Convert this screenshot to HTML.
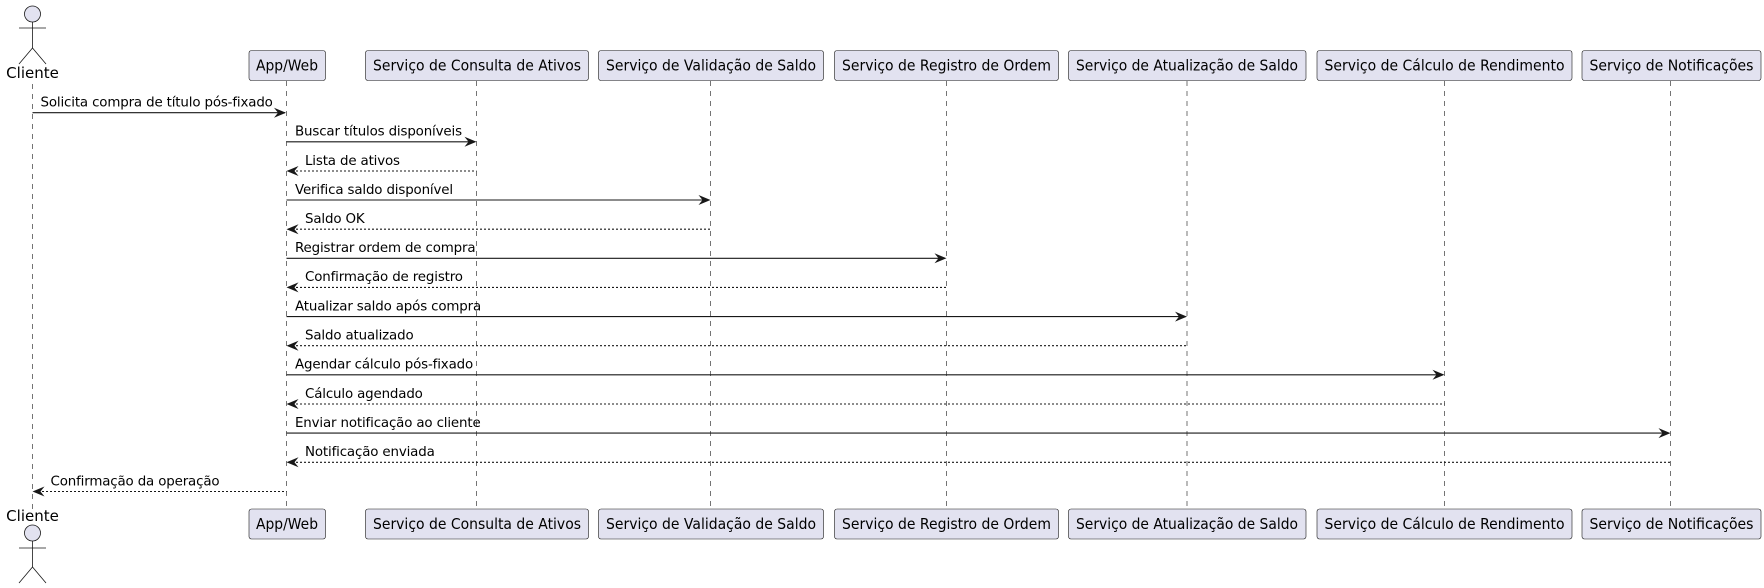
<!DOCTYPE html>
<html><head><meta charset="utf-8"><style>
html,body{margin:0;padding:0;background:#fff;width:1764px;height:588px;overflow:hidden}
svg{display:block}
.t{font-family:"DejaVu Sans","Liberation Sans",sans-serif;fill:#000}
.p{font-size:15px}
.m{font-size:13.4px;letter-spacing:-0.15px}
.ll{stroke:#181818;stroke-width:0.6;stroke-dasharray:5,5}
.bx{fill:#E2E2F0;stroke:#181818;stroke-width:0.6}
.a{stroke:#181818;stroke-width:1.1}
.d{stroke:#181818;stroke-width:1.1;stroke-dasharray:2,2}
.h{fill:#181818}
.ac{fill:#E2E2F0;stroke:#181818;stroke-width:0.8}
.al{stroke:#181818;stroke-width:0.8;fill:none}
</style></head><body>
<svg width="1764" height="588" viewBox="0 0 1764 588" xmlns="http://www.w3.org/2000/svg">
<line class="ll" x1="32.5" y1="84" x2="32.5" y2="509"/>
<line class="ll" x1="286.5" y1="81" x2="286.5" y2="509"/>
<line class="ll" x1="476.5" y1="81" x2="476.5" y2="509"/>
<line class="ll" x1="710.5" y1="81" x2="710.5" y2="509"/>
<line class="ll" x1="946.5" y1="81" x2="946.5" y2="509"/>
<line class="ll" x1="1187" y1="81" x2="1187" y2="509"/>
<line class="ll" x1="1444.5" y1="81" x2="1444.5" y2="509"/>
<line class="ll" x1="1670.5" y1="81" x2="1670.5" y2="509"/>

<circle class="ac" cx="32.5" cy="14" r="8"/>
<line class="al" x1="32.5" y1="22" x2="32.5" y2="48"/>
<line class="al" x1="19" y1="28" x2="46" y2="28"/>
<polyline class="al" points="19,64 32.5,48 46,64"/>
<text class="t p" x="32.5" y="78" text-anchor="middle">Cliente</text>
<text class="t p" x="32.5" y="521" text-anchor="middle">Cliente</text>
<circle class="ac" cx="32.5" cy="533" r="8"/>
<line class="al" x1="32.5" y1="541" x2="32.5" y2="567"/>
<line class="al" x1="19" y1="548" x2="46" y2="548"/>
<polyline class="al" points="19,583 32.5,567 46,583"/>

<g>
<rect class="bx" x="249" y="50.5" width="76.5" height="30" rx="2.5"/>
<text class="t p" x="287" y="70.5" text-anchor="middle" textLength="62" lengthAdjust="spacingAndGlyphs">App/Web</text>
<rect class="bx" x="365.5" y="50.5" width="223" height="30" rx="2.5"/>
<text class="t p" x="477" y="70.5" text-anchor="middle" textLength="208" lengthAdjust="spacingAndGlyphs">Serviço de Consulta de Ativos</text>
<rect class="bx" x="598.5" y="50.5" width="225" height="30" rx="2.5"/>
<text class="t p" x="711" y="70.5" text-anchor="middle" textLength="210" lengthAdjust="spacingAndGlyphs">Serviço de Validação de Saldo</text>
<rect class="bx" x="834.5" y="50.5" width="224" height="30" rx="2.5"/>
<text class="t p" x="946.5" y="70.5" text-anchor="middle" textLength="209" lengthAdjust="spacingAndGlyphs">Serviço de Registro de Ordem</text>
<rect class="bx" x="1068.5" y="50.5" width="237.5" height="30" rx="2.5"/>
<text class="t p" x="1187" y="70.5" text-anchor="middle" textLength="222" lengthAdjust="spacingAndGlyphs">Serviço de Atualização de Saldo</text>
<rect class="bx" x="1317" y="50.5" width="255" height="30" rx="2.5"/>
<text class="t p" x="1444.5" y="70.5" text-anchor="middle" textLength="240" lengthAdjust="spacingAndGlyphs">Serviço de Cálculo de Rendimento</text>
<rect class="bx" x="1582" y="50.5" width="179" height="30" rx="2.5"/>
<text class="t p" x="1671.5" y="70.5" text-anchor="middle" textLength="164" lengthAdjust="spacingAndGlyphs">Serviço de Notificações</text>
</g>
<g>
<rect class="bx" x="249" y="509" width="76.5" height="30" rx="2.5"/>
<text class="t p" x="287" y="529" text-anchor="middle" textLength="62" lengthAdjust="spacingAndGlyphs">App/Web</text>
<rect class="bx" x="365.5" y="509" width="223" height="30" rx="2.5"/>
<text class="t p" x="477" y="529" text-anchor="middle" textLength="208" lengthAdjust="spacingAndGlyphs">Serviço de Consulta de Ativos</text>
<rect class="bx" x="598.5" y="509" width="225" height="30" rx="2.5"/>
<text class="t p" x="711" y="529" text-anchor="middle" textLength="210" lengthAdjust="spacingAndGlyphs">Serviço de Validação de Saldo</text>
<rect class="bx" x="834.5" y="509" width="224" height="30" rx="2.5"/>
<text class="t p" x="946.5" y="529" text-anchor="middle" textLength="209" lengthAdjust="spacingAndGlyphs">Serviço de Registro de Ordem</text>
<rect class="bx" x="1068.5" y="509" width="237.5" height="30" rx="2.5"/>
<text class="t p" x="1187" y="529" text-anchor="middle" textLength="222" lengthAdjust="spacingAndGlyphs">Serviço de Atualização de Saldo</text>
<rect class="bx" x="1317" y="509" width="255" height="30" rx="2.5"/>
<text class="t p" x="1444.5" y="529" text-anchor="middle" textLength="240" lengthAdjust="spacingAndGlyphs">Serviço de Cálculo de Rendimento</text>
<rect class="bx" x="1582" y="509" width="179" height="30" rx="2.5"/>
<text class="t p" x="1671.5" y="529" text-anchor="middle" textLength="164" lengthAdjust="spacingAndGlyphs">Serviço de Notificações</text>
</g>

<line class="a" x1="32.5" y1="112.7" x2="285" y2="112.7"/>
<polygon class="h" points="274,107.7 286,112.7 274,117.7 278,112.7"/>
<text class="t m" x="40.5" y="106.5">Solicita compra de título pós-fixado</text>

<line class="a" x1="286.5" y1="141.8" x2="475" y2="141.8"/>
<polygon class="h" points="464.5,136.8 476.5,141.8 464.5,146.8 468.5,141.8"/>
<text class="t m" x="295" y="135.6">Buscar títulos disponíveis</text>

<line class="d" x1="288" y1="171" x2="476.5" y2="171"/>
<polygon class="h" points="298.5,166 286.5,171 298.5,176 294.5,171"/>
<text class="t m" x="305" y="164.8">Lista de ativos</text>

<line class="a" x1="286.5" y1="200" x2="709" y2="200"/>
<polygon class="h" points="698.5,195 710.5,200 698.5,205 702.5,200"/>
<text class="t m" x="295" y="193.8">Verifica saldo disponível</text>

<line class="d" x1="288" y1="229.2" x2="710.5" y2="229.2"/>
<polygon class="h" points="298.5,224.2 286.5,229.2 298.5,234.2 294.5,229.2"/>
<text class="t m" x="305" y="223">Saldo OK</text>

<line class="a" x1="286.5" y1="258.3" x2="945" y2="258.3"/>
<polygon class="h" points="934.5,253.3 946.5,258.3 934.5,263.3 938.5,258.3"/>
<text class="t m" x="295" y="252.1">Registrar ordem de compra</text>

<line class="d" x1="288" y1="287.4" x2="946.5" y2="287.4"/>
<polygon class="h" points="298.5,282.4 286.5,287.4 298.5,292.4 294.5,287.4"/>
<text class="t m" x="305" y="281.2">Confirmação de registro</text>

<line class="a" x1="286.5" y1="316.6" x2="1185.5" y2="316.6"/>
<polygon class="h" points="1175,311.6 1187,316.6 1175,321.6 1179,316.6"/>
<text class="t m" x="295" y="310.4">Atualizar saldo após compra</text>

<line class="d" x1="288" y1="345.7" x2="1187" y2="345.7"/>
<polygon class="h" points="298.5,340.7 286.5,345.7 298.5,350.7 294.5,345.7"/>
<text class="t m" x="305" y="339.5">Saldo atualizado</text>

<line class="a" x1="286.5" y1="374.8" x2="1443" y2="374.8"/>
<polygon class="h" points="1432.5,369.8 1444.5,374.8 1432.5,379.8 1436.5,374.8"/>
<text class="t m" x="295" y="368.6">Agendar cálculo pós-fixado</text>

<line class="d" x1="288" y1="404" x2="1444.5" y2="404"/>
<polygon class="h" points="298.5,399 286.5,404 298.5,409 294.5,404"/>
<text class="t m" x="305" y="397.8">Cálculo agendado</text>

<line class="a" x1="286.5" y1="433.1" x2="1669" y2="433.1"/>
<polygon class="h" points="1658.5,428.1 1670.5,433.1 1658.5,438.1 1662.5,433.1"/>
<text class="t m" x="295" y="426.9">Enviar notificação ao cliente</text>

<line class="d" x1="288" y1="462.3" x2="1670.5" y2="462.3"/>
<polygon class="h" points="298.5,457.3 286.5,462.3 298.5,467.3 294.5,462.3"/>
<text class="t m" x="305" y="456.1">Notificação enviada</text>

<line class="d" x1="34" y1="491.5" x2="286.5" y2="491.5"/>
<polygon class="h" points="44.5,486.5 32.5,491.5 44.5,496.5 40.5,491.5"/>
<text class="t m" x="50.5" y="485.3">Confirmação da operação</text>
</svg>
</body></html>
